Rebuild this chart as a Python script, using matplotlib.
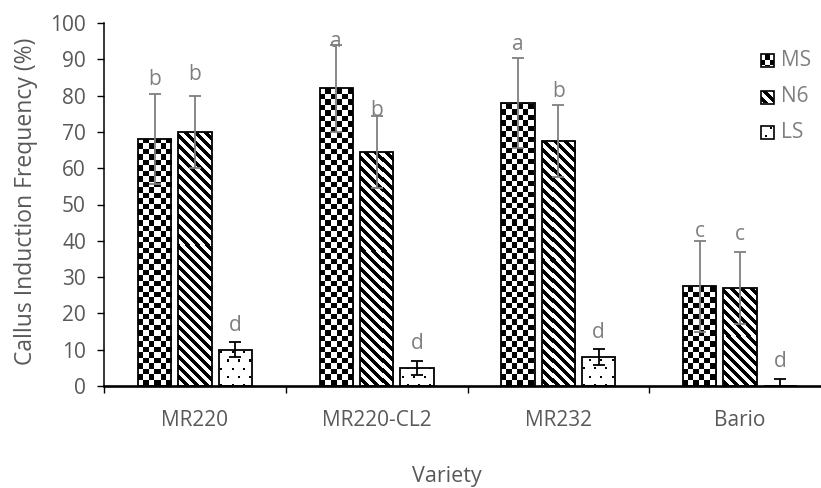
import numpy as np
import matplotlib
matplotlib.use('Agg')
import matplotlib.pyplot as plt
from matplotlib.patches import Rectangle
from matplotlib.colors import ListedColormap
from matplotlib.transforms import blended_transform_factory

plt.rcParams['font.family'] = ['Open Sans', 'DejaVu Sans']

# ---------------- data ----------------
varieties = ['MR220', 'MR220-CL2', 'MR232', 'Bario']
media = ['MS', 'N6', 'LS']
ms_vals = [68, 82, 78, 27.5]
n6_vals = [70, 64.5, 67.5, 27]
ls_vals = [10, 5, 8, 0]
ms_err = [12.4, 12, 12.3, 12.5]
n6_err = [10, 10, 10, 10]
ls_err = [2, 2, 2.2, 2]
ms_letters = ['b', 'a', 'a', 'c']
n6_letters = ['b', 'b', 'b', 'c']
ls_letters = ['d', 'd', 'd', 'd']
ms_letter_y = [84.3, 94.8, 94.2, 42.5]
n6_letter_y = [85.7, 76.0, 81.1, 41.6]
ls_letter_y = [16.8, 11.8, 14.7, 6.7]
yticks = [0, 10, 20, 30, 40, 50, 60, 70, 80, 90, 100]

# ---------------- figure ----------------
W, H = 821, 488
fig = plt.figure(figsize=(W / 100, H / 100), dpi=100)
ax_l, ax_r, ax_b, ax_t = 104, 831, 386, 23
ax = fig.add_axes([ax_l / W, (H - ax_b) / H, (ax_r - ax_l) / W, (ax_b - ax_t) / H])

# pixel patterns in figure pixel coordinates (row 0 = top)
yy, xx = np.mgrid[0:H, 0:W].astype(float)
checker = ((np.floor(xx / 5.5) + np.floor(yy / 5.5)) % 2).astype(float)
stripes = (((xx - yy) % 10) < 4.6).astype(float)
row = np.floor(yy / 8)
dots = (((yy % 8) < 2) & (((xx + (row % 2) * 5.5) % 11) < 2)).astype(float)
patterns = [checker, stripes, dots]
cmap = ListedColormap(['white', 'black'])

series_vals = [ms_vals, n6_vals, ls_vals]
series_err = [ms_err, n6_err, ls_err]
series_letters = [ms_letters, n6_letters, ls_letters]
series_letter_y = [ms_letter_y, n6_letter_y, ls_letter_y]
err_colors = ['#7f7f7f', '#7f7f7f', '#000000']
offsets = [-0.222, 0.0, 0.222]
bw = 0.183
xc = np.arange(len(varieties))

for i in range(3):
    x = xc + offsets[i]
    bars = ax.bar(x, series_vals[i], width=bw, facecolor='none',
                  edgecolor='black', linewidth=1.3, zorder=3)
    for p in bars.patches:
        im = ax.imshow(patterns[i], cmap=cmap, vmin=0, vmax=1,
                       interpolation='nearest', origin='upper',
                       extent=(0, 1, 0, 1), transform=fig.transFigure,
                       aspect='auto', zorder=2)
        im.set_clip_path(p)
    ax.errorbar(x, series_vals[i], yerr=series_err[i], fmt='none',
                ecolor=err_colors[i], elinewidth=1.3, capsize=4,
                capthick=1.3, zorder=4)
    for xi, lab, ly in zip(x, series_letters[i], series_letter_y[i]):
        ax.text(xi, ly, lab, ha='center', va='center', color='#7f7f7f',
                fontsize=15, zorder=5)

ax.set_xlim(-0.5, 3.5)
ax.set_ylim(0, 100)

for s in ['top', 'right']:
    ax.spines[s].set_visible(False)
ax.spines['left'].set_linewidth(1.1)
ax.spines['bottom'].set_linewidth(1.9)
ax.spines['left'].set_color('black')
ax.spines['bottom'].set_color('black')

ax.set_yticks(yticks)
ax.set_yticklabels([str(t) for t in yticks])
ax.tick_params(axis='y', direction='out', length=5, width=1, pad=8,
               labelsize=15, labelcolor='#595959', color='black')
ax.set_xticks(np.arange(-0.5, 4.0, 1.0))
ax.set_xticklabels([])
ax.tick_params(axis='x', direction='out', length=5, width=1, color='black')

# category labels
btr = blended_transform_factory(ax.transData, fig.transFigure)
for xi, name in zip(xc, varieties):
    ax.text(xi, 1 - 425.5 / H, name, transform=btr, ha='center',
            va='baseline', fontsize=15, color='#595959', clip_on=False)

fig.text(26 / W, 1 - 201 / H, 'Callus Induction Frequency (%)', rotation=90,
         ha='center', va='center', fontsize=16.5, color='#595959')
fig.text(447 / W, 1 - 482 / H, 'Variety', ha='center', va='baseline',
         fontsize=15.5, color='#595959')

# legend (manual, with pattern swatches)
leg_y = [60, 97, 132]
for i, name in enumerate(media):
    cy = leg_y[i]
    r = Rectangle((761 / W, 1 - (cy + 6.5) / H), 13 / W, 13 / H,
                  transform=fig.transFigure, facecolor='none',
                  edgecolor='black', linewidth=1.2, zorder=6)
    ax.add_patch(r)
    im = ax.imshow(patterns[i], cmap=cmap, vmin=0, vmax=1,
                   interpolation='nearest', origin='upper',
                   extent=(0, 1, 0, 1), transform=fig.transFigure,
                   aspect='auto', zorder=5)
    im.set_clip_path(r)
    fig.text(781 / W, 1 - cy / H, name, ha='left', va='center',
             fontsize=15, color='#7f7f7f')

ax.set_xlim(-0.5, 3.5)
ax.set_ylim(0, 100)

fig.savefig('out.png', dpi=100)
